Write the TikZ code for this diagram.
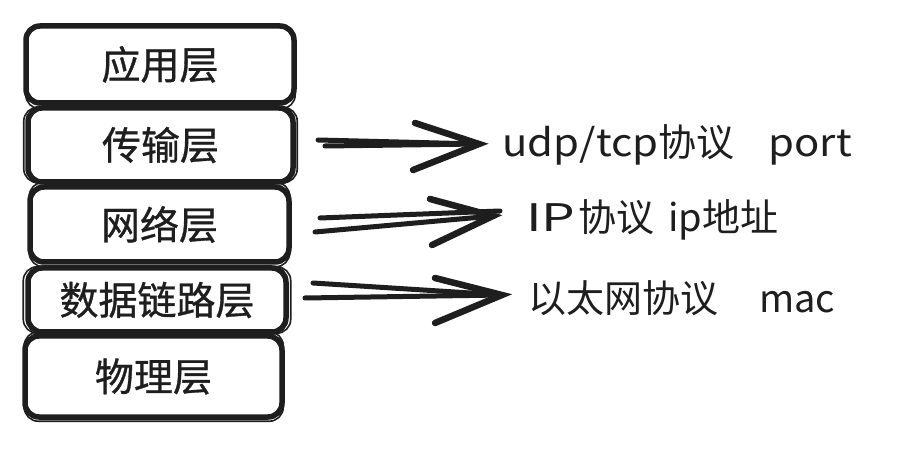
\documentclass[tikz,border=0pt]{standalone}
\usepackage{fontspec}
\newfontfamily\cjk{Noto Sans CJK SC}
\newfontfamily\cjkb[FakeBold=0.8]{Noto Sans CJK SC}
\newfontfamily\latw[FakeStretch=1.1]{Noto Sans CJK SC}
\newfontfamily\latww[FakeStretch=1.4]{Noto Sans CJK SC}
\definecolor{ink}{HTML}{1E1E1E}
\begin{document}
\begin{tikzpicture}[x=1pt,y=-1pt,
  layer/.style={draw=ink, line width=5.5pt, rounded corners=14pt, inner sep=0pt,
    text=ink, font=\cjkb\fontsize{39}{39}\selectfont},
  sketchline/.style={draw=ink, line width=1.6pt, rounded corners=14pt},
  lbl/.style={anchor=west, inner sep=0pt, text=ink, font=\cjk\fontsize{38}{38}\selectfont},
  shaft/.style={draw=ink, line width=5pt, line cap=round},
  arrowhead/.style={draw=ink, line width=6.5pt, line cap=round}]
\useasboundingbox[fill=white] (0,0) rectangle (900,454);

\node[layer, minimum width=268pt, minimum height=77pt] (app) at (160,64.5) {应用层};
\node[layer, minimum width=265pt, minimum height=74pt] (trans) at (160.5,145) {传输层};
\node[layer, minimum width=259pt, minimum height=75pt] (net) at (159.5,224.5) {网络层};
\node[layer, minimum width=258pt, minimum height=64pt] (link) at (157,300) {数据链路层};
\node[layer, minimum width=257pt, minimum height=81pt] (phys) at (153.5,376.5) {物理层};

% second, slightly offset strokes for the hand-drawn look
\draw[sketchline] ([shift={(2.5,1.5)}]app.north west) rectangle ([shift={(-1.5,3)}]app.south east);
\draw[sketchline] ([shift={(-1.5,2)}]trans.north west) rectangle ([shift={(1.5,-2)}]trans.south east);
\draw[sketchline] ([shift={(2,-2)}]net.north west) rectangle ([shift={(-2,2)}]net.south east);
\draw[sketchline] ([shift={(-2,1.5)}]link.north west) rectangle ([shift={(2,-1.5)}]link.south east);
\draw[sketchline] ([shift={(2,-1.5)}]phys.north west) rectangle ([shift={(-1.5,1.5)}]phys.south east);

\node[lbl] (l1) at (502,145) {{\latw udp/tcp}协议\hspace{34pt}{\latw port}};
\node[lbl] (l2) at (526,220) {\makebox[52pt][l]{\latww IP}协议\hspace{14pt}ip地址};
\node[lbl] (l3) at (528,298) {以太网协议\hspace{41pt}mac};

% arrow 1
\coordinate (a1s1) at (318,140); \coordinate (a1s2) at (325,146);
\coordinate (a1t) at (479,144);
\coordinate (a1u) at (415,123); \coordinate (a1d) at (413,170);
\draw[shaft] (a1s1) -- (a1t);
\draw[shaft] (a1s2) -- (a1t);
\draw[arrowhead] (a1u) -- (a1t) -- (a1d);

% arrow 2
\coordinate (a2s1) at (320,218); \coordinate (a2s2) at (315,232);
\coordinate (a2t1) at (500,211); \coordinate (a2t2) at (493,216);
\coordinate (a2u) at (430,199); \coordinate (a2d) at (432,245);
\draw[shaft] (a2s1) -- (a2t1);
\draw[shaft] (a2s2) -- (a2t2);
\draw[arrowhead] (a2u) -- (a2t2) -- (a2d);

% arrow 3
\coordinate (a3s1) at (313,283); \coordinate (a3s2) at (305,298);
\coordinate (a3t) at (502,295);
\coordinate (a3u) at (435,278); \coordinate (a3d) at (435,323);
\draw[shaft] (a3s1) -- (a3t);
\draw[shaft] (a3s2) -- (a3t);
\draw[arrowhead] (a3u) -- (a3t) -- (a3d);
\end{tikzpicture}
\end{document}
